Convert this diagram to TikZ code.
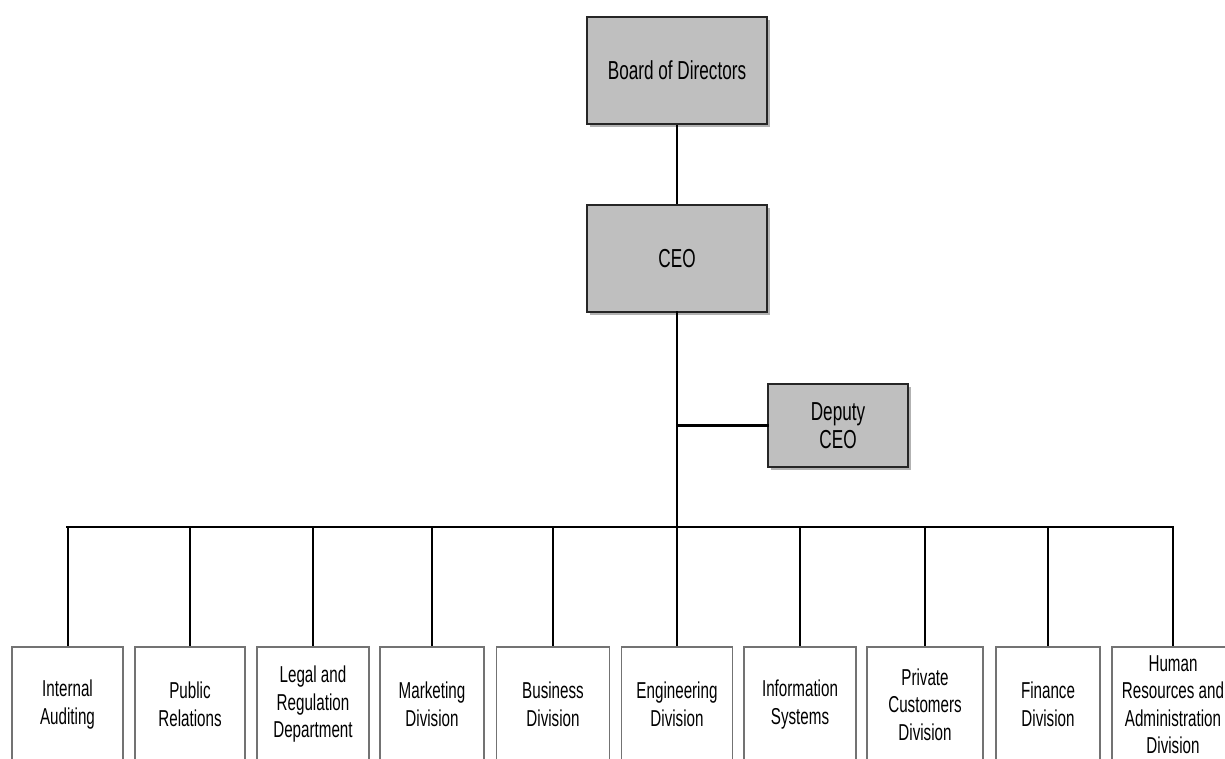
\documentclass[tikz,border=0pt]{standalone}
\usepackage{fontspec}
\setmainfont{Liberation Sans}[FakeStretch=0.66]
\usetikzlibrary{shadows}
\begin{document}
\begin{tikzpicture}[x=1pt,y=-1pt,
  topbox/.style={draw=black!85, line width=1.3pt, fill=black!25, align=center,
    font=\fontsize{26}{28}\selectfont, inner sep=0pt,
    drop shadow={shadow xshift=3pt, shadow yshift=-3pt, fill=black!60, opacity=0.5}},
  botbox/.style={draw=black!55, line width=1.4pt, fill=white, align=center,
    font=\fontsize{23}{27.5}\selectfont, inner sep=0pt, minimum height=115pt},
  conn/.style={line width=2pt, black},
  busline/.style={line width=2.8pt, black, line cap=rect}]
\useasboundingbox (0,0) rectangle (1225,758);
% top boxes
\node[topbox, minimum width=180pt, minimum height=107pt] (board) at (677,70.5) {Board of Directors};
\node[topbox, minimum width=180pt, minimum height=107pt] (ceo) at (677,258.5) {CEO};
\node[topbox, minimum width=140pt, minimum height=83pt] (dep) at (838,425.5) {Deputy\\CEO};
% bottom boxes
\node[botbox, minimum width=111pt] (b1) at (67.5,704.5) {Internal\\Auditing};
\node[botbox, minimum width=110pt] (b2) at (190,704.5) {Public\\Relations};
\node[botbox, minimum width=112pt] (b3) at (313,704.5) {Legal and\\Regulation\\Department};
\node[botbox, minimum width=104pt] (b4) at (432,704.5) {Marketing\\Division};
\node[botbox, minimum width=113pt] (b5) at (553,704.5) {Business\\Division};
\node[botbox, minimum width=111pt] (b6) at (677,704.5) {Engineering\\Division};
\node[botbox, minimum width=112pt] (b7) at (800,704.5) {Information\\Systems};
\node[botbox, minimum width=116pt] (b8) at (925,704.5) {Private\\Customers\\Division};
\node[botbox, minimum width=104pt] (b9) at (1048,704.5) {Finance\\Division};
\node[botbox, minimum width=122pt] (b10) at (1173,704.5) {Human\\Resources and\\Administration\\Division};
% connectors
\coordinate (busL) at (67,527);
\coordinate (busR) at (1173,527);
\draw[line width=1.6pt] (board.south) -- (ceo.north);
\draw[busline] (ceo.south) -- (ceo.south |- busL);
\draw[busline] (ceo.south |- dep.west) -- (dep.west);
\draw[busline] (busL) -- (busR);
\foreach \b in {b1,b2,b3,b4,b5,b6,b7,b8,b9,b10}{
  \draw[conn] (\b.north |- busL) -- (\b.north);
}
\end{tikzpicture}
\end{document}
